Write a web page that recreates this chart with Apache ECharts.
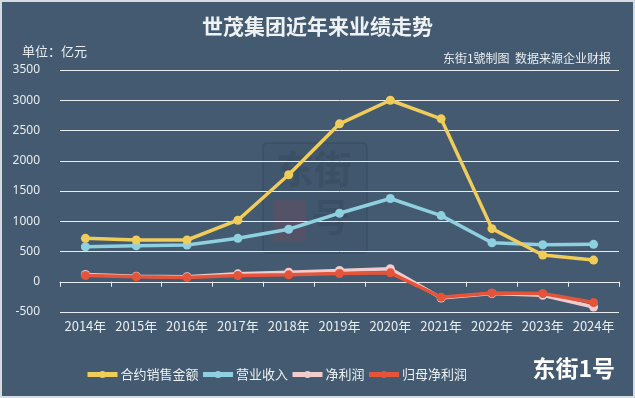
<!DOCTYPE html>
<html>
<head>
<meta charset="utf-8">
<script src="https://cdn.jsdelivr.net/npm/echarts@6/dist/echarts.min.js"></script>
<style>
html, body { margin: 0; padding: 0; background: #435a70; }
#chart { width: 635px; height: 398px; }
</style>
</head>
<body>
<div id="chart"></div>
<script>
// 年份
var years = ['2014年','2015年','2016年','2017年','2018年','2019年','2020年','2021年','2022年','2023年','2024年'];
// 合约销售金额 (亿元)
var contractSales = [718, 690, 690, 1017, 1769, 2610, 3000, 2693, 878, 441, 358];
// 营业收入
var revenue = [579, 595, 607, 718, 868, 1133, 1376, 1093, 645, 612, 618];
// 净利润
var netProfit = [121, 92, 84, 131, 159, 187, 214, -270, -195, -223, -417];
// 归母净利润
var parentProfit = [104, 81, 71, 104, 114, 137, 147, -256, -185, -195, -344];
var seriesNames = ['合约销售金额','营业收入','净利润','归母净利润'];
var colors = ['#f0cd5a','#8fd0e0','#f2cccc','#e4543a'];

var chart = echarts.init(document.getElementById('chart'));

function makeLine(name, data, color, z) {
    return {
        name: name,
        type: 'line',
        data: data,
        z: z,
        symbol: 'circle',
        symbolSize: 9,
        lineStyle: { width: 3.5, color: color },
        itemStyle: { color: color },
        emphasis: { disabled: true }
    };
}

chart.setOption({
    backgroundColor: '#435a70',
    animation: false,
    color: colors,
    title: {
        text: '世茂集团近年来业绩走势',
        left: 'center',
        top: 11,
        textStyle: {
            color: '#eef2f5',
            fontSize: 21,
            fontWeight: 'bold',
            fontFamily: 'Noto Sans CJK SC'
        }
    },
    graphic: [
        { type: 'rect', shape: { x: 1, y: 1, width: 633, height: 396 }, style: { fill: 'none', stroke: '#d6dbe0', lineWidth: 2 }, silent: true },
        { type: 'text', left: 22, top: 45, style: { text: '单位：亿元', fill: '#e8edf1', font: '13px "Noto Sans CJK SC"' } },
        { type: 'text', right: 24, top: 52, style: { text: '东街1號制图  数据来源企业财报', fill: '#e8edf1', font: '12px "Noto Sans CJK SC"' } },
        { type: 'text', right: 20, top: 357, style: { text: '东街1号', fill: '#ffffff', font: 'bold 23px "Noto Sans CJK SC"' } },
        // 水印
        { type: 'rect', shape: { x: 263, y: 143, width: 104, height: 110, r: 4 }, style: { fill: 'rgba(40,55,70,0.06)', stroke: 'rgba(40,55,70,0.2)', lineWidth: 2 }, silent: true, z: 0 },
        { type: 'rect', shape: { x: 273, y: 200, width: 32, height: 42 }, style: { fill: 'rgba(150,70,80,0.22)' }, silent: true, z: 0 },
        { type: 'text', left: 276, top: 150, style: { text: '东街', fill: 'rgba(40,55,70,0.2)', font: 'bold 38px "Noto Sans CJK SC"' }, silent: true, z: 0 },
        { type: 'text', left: 312, top: 198, style: { text: '号', fill: 'rgba(40,55,70,0.2)', font: 'bold 38px "Noto Sans CJK SC"' }, silent: true, z: 0 }
    ],
    legend: {
        data: seriesNames,
        left: 80,
        top: 363,
        itemWidth: 30,
        itemHeight: 9,
        itemGap: 2,
        lineStyle: { width: 5 },
        textStyle: { color: '#eef2f5', fontSize: 13, padding: [0, 0, 0, -2], fontFamily: 'Noto Sans CJK SC' }
    },
    grid: {
        left: 60,
        right: 16,
        top: 70,
        bottom: 86,
        containLabel: false
    },
    xAxis: {
        type: 'category',
        data: years,
        boundaryGap: true,
        axisLine: { lineStyle: { color: '#e8edf1', width: 1 } },
        axisTick: { show: true, length: 5, lineStyle: { color: '#e8edf1' } },
        axisLabel: { color: '#e8edf1', fontSize: 13, margin: 8, interval: 0, fontFamily: 'Noto Sans CJK SC' },
        splitLine: { show: false }
    },
    yAxis: {
        type: 'value',
        min: -500,
        max: 3500,
        interval: 500,
        axisLine: { show: false },
        axisTick: { show: false },
        axisLabel: {
            color: '#e8edf1',
            fontSize: 12,
            margin: 20,
            fontFamily: 'Noto Sans',
            formatter: function (v) { return String(v); }
        },
        splitLine: { lineStyle: { color: '#e8edf1', width: 1 } }
    },
    series: [
        makeLine(seriesNames[0], contractSales, colors[0], 4),
        makeLine(seriesNames[1], revenue, colors[1], 3),
        makeLine(seriesNames[2], netProfit, colors[2], 2),
        makeLine(seriesNames[3], parentProfit, colors[3], 5)
    ]
});
</script>
</body>
</html>
